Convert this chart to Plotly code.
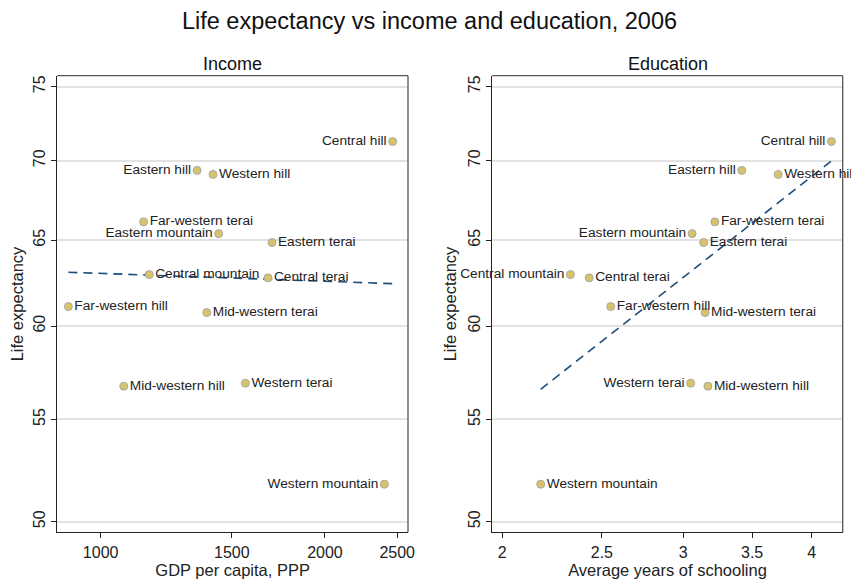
import numpy as np
import plotly.graph_objects as go

regions = ["Central hill", "Eastern hill", "Western hill", "Far-western terai",
           "Eastern mountain", "Eastern terai", "Central mountain", "Central terai",
           "Far-western hill", "Mid-western terai", "Mid-western hill", "Western terai",
           "Western mountain"]
life_exp = [71.26, 69.37, 69.11, 66.12, 65.40, 64.86, 62.95, 62.76,
            61.10, 60.76, 56.73, 56.89, 51.78]
gdp_ppp = [2465, 1347, 1415, 1142, 1440, 1698, 1162, 1677,
           905, 1388, 1074, 1564, 2403]
schooling = [4.18, 3.42, 3.71, 3.22, 3.06, 3.14, 2.33, 2.43,
             2.55, 3.15, 3.17, 3.05, 2.18]

income_ticks = [1000, 1500, 2000, 2500]
school_ticks = [2, 2.5, 3, 3.5, 4]
le_ticks = [50, 55, 60, 65, 70, 75]

L, R = "middle left", "middle right"
pos_income = [L, L, R, R, L, R, R, R, R, R, R, R, L]
pos_school = [L, L, R, R, L, R, L, R, R, R, R, L, R]

W, H, OFF = 859, 584, 8  # page has an 8px body margin


def fx(p):
    return (p - OFF) / W


def fy(p):
    return 1 - (p - OFF) / H


FONT = "Liberation Sans, Arial, sans-serif"
MARKER = dict(size=8, color="#D9C36A", line=dict(color="#A8A8A8", width=1))
LINE = dict(color="#1F4E79", width=1.6, dash="9px,6px")


def loglog_fit(x, y):
    lx, ly = np.log10(x), np.log10(y)
    b, a = np.polyfit(lx, ly, 1)
    xs = np.array([min(x), max(x)])
    return xs, 10 ** (a + b * np.log10(xs))


fig = go.Figure()
for xv, ax, ay, pos in [(gdp_ppp, "x", "y", pos_income),
                        (schooling, "x2", "y2", pos_school)]:
    lx, ly = loglog_fit(xv, life_exp)
    fig.add_trace(go.Scatter(x=lx, y=ly, mode="lines", line=LINE,
                             xaxis=ax, yaxis=ay, showlegend=False, hoverinfo="skip"))
    fig.add_trace(go.Scatter(x=xv, y=life_exp, mode="markers+text", text=regions,
                             textposition=pos, marker=MARKER,
                             textfont=dict(size=13.7, color="#222222", family=FONT),
                             cliponaxis=False, xaxis=ax, yaxis=ay, showlegend=False))

common_y = dict(type="log", range=[np.log10(49.51), np.log10(75.77)], tickvals=le_ticks,
                ticktext=[str(t) for t in le_ticks], tickangle=-90,
                ticks="outside", ticklen=5, tickcolor="#222", tickwidth=1,
                showgrid=True, gridcolor="#E2E2E2", gridwidth=1.5,
                showline=True, linecolor="#222", linewidth=1.3, zeroline=False,
                automargin=False,
                tickfont=dict(size=16, color="#222", family=FONT),
                title=dict(text="Life expectancy", font=dict(size=16.5, color="#222", family=FONT),
                           standoff=4),
                domain=[fy(532.3), fy(75.7)])
common_x = dict(type="log", ticks="outside", ticklen=5, tickcolor="#222", tickwidth=1,
                showgrid=False, showline=True, linecolor="#222", linewidth=1.3,
                zeroline=False, automargin=False,
                tickfont=dict(size=16, color="#222", family=FONT))

fig.update_layout(
    width=W, height=H,
    margin=dict(l=0, r=0, t=0, b=0, autoexpand=False),
    paper_bgcolor="white", plot_bgcolor="white",
    font=dict(family=FONT, color="#222"),
    title=dict(text="Life expectancy vs income and education, 2006",
               x=fx(429.5), xanchor="center", y=fy(21), yanchor="middle",
               font=dict(size=23.5, color="#111", family=FONT)),
    xaxis=dict(common_x, domain=[fx(57.3), fx(408)], anchor="y",
               range=[np.log10(874.6), np.log10(2585)],
               tickvals=income_ticks, ticktext=[str(t) for t in income_ticks],
               title=dict(text="GDP per capita, PPP", standoff=0,
                          font=dict(size=16.5, color="#222", family=FONT))),
    yaxis=dict(common_y, anchor="x"),
    xaxis2=dict(common_x, domain=[fx(492.3), fx(842.7)], anchor="y2",
                range=[np.log10(1.956), np.log10(4.287)],
                tickvals=school_ticks, ticktext=["2", "2.5", "3", "3.5", "4"],
                title=dict(text="Average years of schooling", standoff=0,
                           font=dict(size=16.5, color="#222", family=FONT))),
    yaxis2=dict(common_y, anchor="x2"),
)

for ax, ay, name in [("x", "y", "Income"), ("x2", "y2", "Education")]:
    fig.add_annotation(text=name, xref=f"{ax} domain", yref=f"{ay} domain",
                       x=0.5, y=1, yanchor="bottom", showarrow=False, yshift=0,
                       font=dict(size=18, color="#111", family=FONT))
    fig.add_shape(type="line", xref=f"{ax} domain", yref=f"{ay} domain",
                  x0=0, x1=1, y0=1, y1=1, line=dict(color="#555", width=1.3))
    fig.add_shape(type="line", xref=f"{ax} domain", yref=f"{ay} domain",
                  x0=1, x1=1, y0=0, y1=1, line=dict(color="#555", width=1.3))

fig.write_html("out.html")
